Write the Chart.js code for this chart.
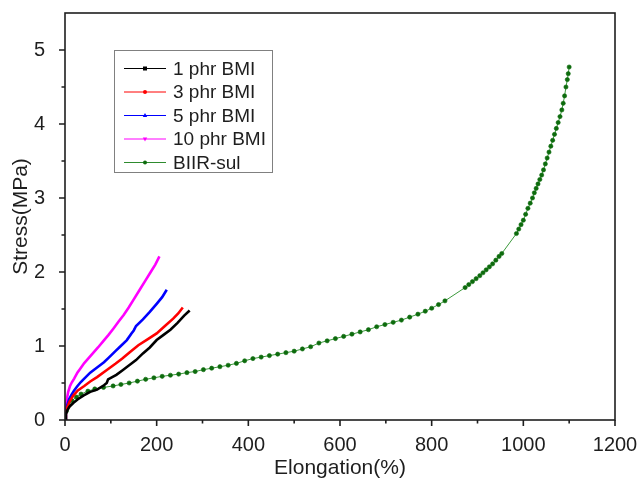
<!DOCTYPE html>
<html>
<head>
<meta charset="utf-8">
<script src="https://cdn.jsdelivr.net/npm/chart.js"></script>
<style>
  html, body { margin: 0; padding: 0; background: #fff; }
  #chart { display: block; }
</style>
</head>
<body>
<canvas id="chart" width="639" height="481"></canvas>
<script>
// Tensile curves: elongation (%) vs stress (MPa)
const bmi1X = [0, 2, 5, 10, 18, 28, 40, 55, 70, 85, 91, 94, 100, 112, 125, 140, 155, 170, 185, 200, 215, 230, 245, 260, 272];
const bmi1Y = [0, 0.08, 0.13, 0.18, 0.23, 0.28, 0.33, 0.38, 0.41, 0.47, 0.5, 0.55, 0.57, 0.61, 0.67, 0.74, 0.81, 0.9, 0.98, 1.08, 1.15, 1.22, 1.31, 1.41, 1.48];

const bmi3X = [0, 2, 5, 10, 18, 28, 42, 55, 70, 92, 110, 125, 140, 160, 180, 200, 218, 236, 247, 257];
const bmi3Y = [0, 0.1, 0.17, 0.25, 0.33, 0.4, 0.46, 0.52, 0.58, 0.68, 0.76, 0.83, 0.91, 1.01, 1.09, 1.17, 1.27, 1.37, 1.44, 1.52];

const bmi5X = [0, 2, 5, 9, 14, 20, 26, 34, 42, 55, 70, 85, 95, 110, 120, 135, 145, 150, 155, 170, 185, 200, 212, 222];
const bmi5Y = [0, 0.12, 0.2, 0.28, 0.34, 0.4, 0.45, 0.51, 0.56, 0.64, 0.71, 0.78, 0.84, 0.93, 0.99, 1.08, 1.17, 1.21, 1.27, 1.36, 1.46, 1.57, 1.66, 1.76];

const bmi10X = [0, 1, 2, 4, 7, 11, 15, 20, 27, 34, 42, 52, 62, 72, 84, 95, 105, 117, 128, 139, 149, 162, 175, 187, 197, 206];
const bmi10Y = [0, 0.1, 0.18, 0.28, 0.38, 0.46, 0.51, 0.56, 0.64, 0.7, 0.77, 0.84, 0.91, 0.98, 1.07, 1.15, 1.23, 1.33, 1.42, 1.52, 1.62, 1.75, 1.88, 2.0, 2.1, 2.21];

const sulX = [0, 3, 8, 15, 25, 35, 50, 65, 84, 105, 122, 140, 158, 176, 194, 212, 230, 248, 266, 284,
  302, 320, 338, 356, 374, 392, 410, 428, 446, 464, 482, 500, 518, 536, 554, 572, 590, 608, 626, 644,
  662, 680, 698, 716, 734, 752, 770, 786, 800, 815, 829, 873, 881, 889, 897, 905, 912, 919, 926, 933,
  940, 947, 953, 985, 990, 995, 1000, 1005, 1010, 1015, 1020, 1024, 1028, 1032, 1036, 1040, 1044, 1048,
  1052, 1056, 1060, 1064, 1068, 1072, 1076, 1080, 1084, 1087, 1090, 1093, 1096, 1098, 1100];
const sulY = [0, 0.12, 0.2, 0.26, 0.31, 0.35, 0.39, 0.42, 0.44, 0.46, 0.48, 0.5, 0.525, 0.55, 0.57, 0.59, 0.605, 0.62, 0.64, 0.655,
  0.68, 0.7, 0.72, 0.74, 0.765, 0.8, 0.83, 0.85, 0.87, 0.89, 0.91, 0.93, 0.96, 0.99, 1.04, 1.07, 1.1, 1.13, 1.16, 1.19,
  1.22, 1.26, 1.29, 1.32, 1.35, 1.39, 1.43, 1.47, 1.51, 1.56, 1.61, 1.79, 1.83, 1.87, 1.91, 1.95, 1.99, 2.03, 2.07, 2.11,
  2.16, 2.21, 2.25, 2.52, 2.58, 2.64, 2.7, 2.78, 2.86, 2.93, 3.0, 3.07, 3.13, 3.19, 3.25, 3.31, 3.38, 3.46,
  3.54, 3.62, 3.7, 3.78, 3.86, 3.94, 4.02, 4.1, 4.19, 4.28, 4.38, 4.5, 4.6, 4.68, 4.77];

const seriesNames = ['1 phr BMI', '3 phr BMI', '5 phr BMI', '10 phr BMI', 'BIIR-sul'];

const xTicks = [0, 200, 400, 600, 800, 1000, 1200];
const xMinorTicks = [100, 300, 500, 700, 900, 1100];
const yTicks = [0, 1, 2, 3, 4, 5];
const yMinorTicks = [0.5, 1.5, 2.5, 3.5, 4.5];

const FONT = 'Liberation Sans, Arial, sans-serif';
const INK = '#1e1e1e';

function pairs(xs, ys) {
  return xs.map((x, i) => ({ x: x, y: ys[i] }));
}

function thickLine(label, xs, ys, color, marker) {
  return {
    label: label,
    data: pairs(xs, ys),
    borderColor: color,
    backgroundColor: color,
    borderWidth: 2.6,
    pointRadius: 0,
    marker: marker,
    tension: 0
  };
}

const datasets = [
  thickLine(seriesNames[0], bmi1X, bmi1Y, '#000000', 'rect'),
  thickLine(seriesNames[1], bmi3X, bmi3Y, '#ff0000', 'circle'),
  thickLine(seriesNames[2], bmi5X, bmi5Y, '#0000ff', 'triangle'),
  thickLine(seriesNames[3], bmi10X, bmi10Y, '#ff00ff', 'triangleDown'),
  {
    label: seriesNames[4],
    data: pairs(sulX, sulY),
    borderColor: '#3c9a3c',
    backgroundColor: '#0d6b0d',
    borderWidth: 1,
    pointRadius: 2.1,
    pointBackgroundColor: '#0d6b0d',
    pointBorderColor: '#0d6b0d',
    pointBorderWidth: 0.6,
    marker: 'circle',
    tension: 0
  }
];

function drawMarker(ctx, kind, x, y, r, color) {
  ctx.fillStyle = color;
  ctx.beginPath();
  if (kind === 'rect') {
    ctx.rect(x - r, y - r, r * 2, r * 2);
  } else if (kind === 'triangle') {
    ctx.moveTo(x, y - r * 1.2);
    ctx.lineTo(x + r * 1.1, y + r * 0.8);
    ctx.lineTo(x - r * 1.1, y + r * 0.8);
    ctx.closePath();
  } else if (kind === 'triangleDown') {
    ctx.moveTo(x, y + r * 1.2);
    ctx.lineTo(x + r * 1.1, y - r * 0.8);
    ctx.lineTo(x - r * 1.1, y - r * 0.8);
    ctx.closePath();
  } else {
    ctx.arc(x, y, r, 0, Math.PI * 2);
  }
  ctx.fill();
}

// boxed legend sitting in the upper left of the plot
const boxLegend = {
  id: 'boxLegend',
  afterDatasetsDraw(chart) {
    const ctx = chart.ctx;
    const bx = 114, by = 50, bw = 158, bh = 122;
    ctx.save();
    ctx.fillStyle = '#ffffff';
    ctx.fillRect(bx, by, bw, bh);
    ctx.strokeStyle = '#808080';
    ctx.lineWidth = 1;
    ctx.strokeRect(bx + 0.5, by + 0.5, bw, bh);
    ctx.font = '19px ' + FONT;
    ctx.textBaseline = 'middle';
    chart.data.datasets.forEach((ds, i) => {
      const y = 68.5 + i * 23.5;
      const color = ds.label === 'BIIR-sul' ? '#2e8b2e' : ds.borderColor;
      ctx.strokeStyle = color;
      ctx.lineWidth = 1;
      ctx.beginPath();
      ctx.moveTo(124, y);
      ctx.lineTo(166, y);
      ctx.stroke();
      drawMarker(ctx, ds.marker, 145, y, 2, ds.backgroundColor);
      ctx.fillStyle = INK;
      ctx.fillText(ds.label, 173, y + 1);
    });
    ctx.restore();
  }
};

// closed frame with outward major/minor tick marks
const frame = {
  id: 'frame',
  afterDraw(chart) {
    const { ctx, chartArea: a, scales } = chart;
    ctx.save();
    ctx.strokeStyle = INK;
    ctx.lineWidth = 1.6;
    ctx.strokeRect(a.left, a.top, a.right - a.left, a.bottom - a.top);
    ctx.beginPath();
    xTicks.concat(xMinorTicks).forEach(v => {
      const px = scales.x.getPixelForValue(v);
      const len = xTicks.includes(v) ? 6 : 3.5;
      ctx.moveTo(px, a.bottom);
      ctx.lineTo(px, a.bottom + len);
    });
    yTicks.concat(yMinorTicks).forEach(v => {
      const py = scales.y.getPixelForValue(v);
      const len = yTicks.includes(v) ? 6 : 3.5;
      ctx.moveTo(a.left, py);
      ctx.lineTo(a.left - len, py);
    });
    ctx.stroke();
    ctx.restore();
  }
};

new Chart(document.getElementById('chart'), {
  type: 'line',
  data: { datasets: datasets },
  options: {
    responsive: false,
    animation: false,
    devicePixelRatio: 1,
    parsing: false,
    layout: { padding: { top: 13, right: 24, left: 0, bottom: 0 } },
    plugins: {
      legend: { display: false },
      tooltip: { enabled: false }
    },
    scales: {
      x: {
        type: 'linear',
        min: 0,
        max: 1200,
        afterBuildTicks: s => { s.ticks = xTicks.map(v => ({ value: v })); },
        afterFit: s => { s.height = 61; s.paddingLeft = 0; s.paddingRight = 0; },
        grid: { display: false },
        border: { display: false },
        ticks: {
          color: INK,
          font: { family: FONT, size: 20 },
          padding: 5,
          maxRotation: 0,
          callback: v => String(v)
        },
        title: {
          display: true,
          text: 'Elongation(%)',
          color: INK,
          font: { family: FONT, size: 21 },
          padding: { top: 0, bottom: 0 }
        }
      },
      y: {
        type: 'linear',
        min: 0,
        max: 5.5,
        afterBuildTicks: s => { s.ticks = yTicks.map(v => ({ value: v })); },
        afterFit: s => { s.width = 65; s.paddingTop = 0; s.paddingBottom = 0; },
        grid: { display: false },
        border: { display: false },
        ticks: {
          color: INK,
          font: { family: FONT, size: 20 },
          padding: 12,
          callback: v => String(v)
        },
        title: {
          display: true,
          text: 'Stress(MPa)',
          color: INK,
          font: { family: FONT, size: 21 },
          padding: { top: 9, bottom: 0 }
        }
      }
    }
  },
  plugins: [boxLegend, frame]
});
</script>
</body>
</html>
